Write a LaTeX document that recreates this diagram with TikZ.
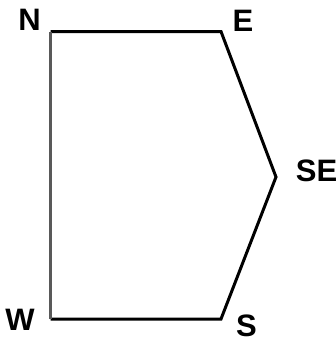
\documentclass[tikz,border=0pt]{standalone}
\usepackage{fontspec}
\setmainfont{Liberation Sans}
\begin{document}
\begin{tikzpicture}[x=1pt,y=-1pt,
  lbl/.style={font=\bfseries\fontsize{31}{31}\selectfont, inner sep=0pt, anchor=base},
  edge/.style={line width=3pt, line join=miter}]
\useasboundingbox (0,0) rectangle (336,341);
\coordinate (n) at (50.5,31.5);
\coordinate (e) at (221,31.5);
\coordinate (se) at (276,177);
\coordinate (s) at (221,319);
\coordinate (w) at (50.5,319);
\draw[edge] (n) -- (e) -- (se) -- (s) -- (w);
\draw[line width=2.5pt, black!65] (w) -- (n);
\node[lbl] (ln) at (29.5,30) {N};
\node[lbl] (le) at (243,31) {E};
\node[lbl] (lse) at (316.5,181) {SE};
\node[lbl] (lw) at (20,330) {W};
\node[lbl] (ls) at (246.5,336) {S};
\end{tikzpicture}
\end{document}
